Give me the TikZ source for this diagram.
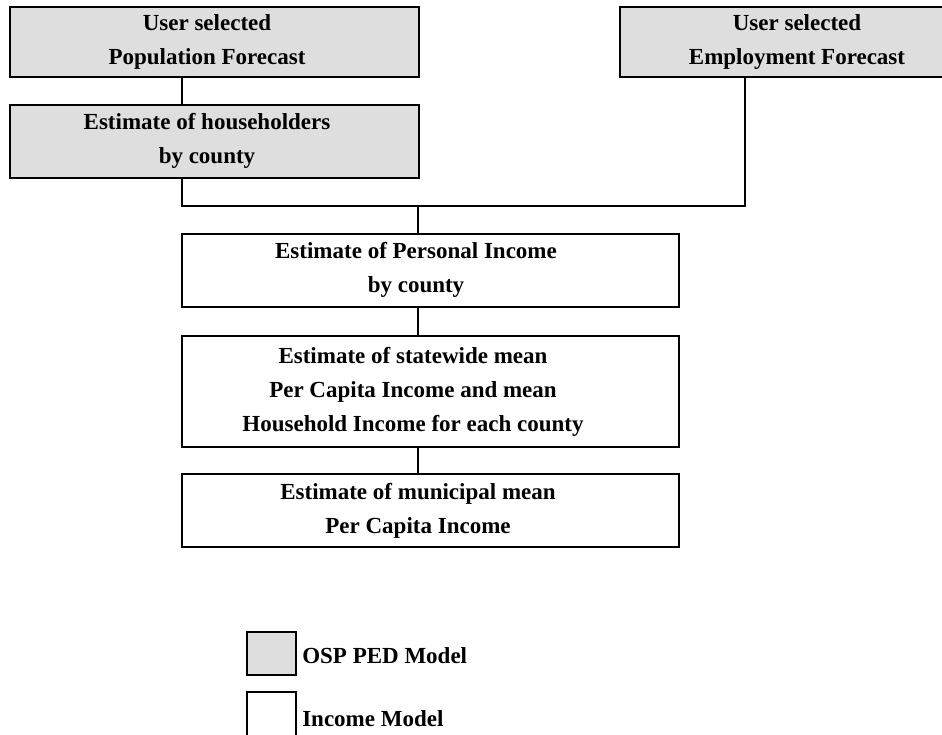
\documentclass[tikz,border=0pt]{standalone}
\usepackage{fontspec}
\setmainfont{Liberation Serif}
\definecolor{pedgrey}{RGB}{222,222,222}
\begin{document}
\begin{tikzpicture}[x=0.75pt,y=-0.75pt,
  box/.style={draw=black,line width=2.2pt,rectangle,inner sep=0pt,minimum width=#1},
  grey/.style={fill=pedgrey},
  conn/.style={draw=black,line width=2.2pt},
  txt/.style={font=\fontsize{17.25}{25.5}\selectfont\bfseries,align=center,inner sep=0pt},
  leg/.style={font=\fontsize{17.25}{25.5}\selectfont\bfseries,inner sep=0pt,anchor=base west}]
\useasboundingbox (0,0) rectangle (942,735);
% boxes
\node[box=409*0.75pt,grey,minimum height=70*0.75pt] (pop) at (214.5,42) {};
\node[box=409*0.75pt,grey,minimum height=73*0.75pt] (hh) at (214.5,141.5) {};
\node[box=360*0.75pt,grey,minimum height=70*0.75pt] (emp) at (800,42) {};
\node[box=497*0.75pt,minimum height=73*0.75pt] (pi) at (430.5,270.5) {};
\node[box=497*0.75pt,minimum height=111*0.75pt] (sw) at (430.5,391.5) {};
\node[box=497*0.75pt,minimum height=73*0.75pt] (mu) at (430.5,510.5) {};
\node[box=49*0.75pt,grey,minimum height=43*0.75pt] (lg) at (271.5,653.5) {};
\node[box=49*0.75pt,minimum height=48*0.75pt] (lw) at (271.5,716) {};
% texts
\node[txt] (tpop) at (207,42) {User selected\\Population Forecast};
\node[txt] (thh) at (207,141) {Estimate of householders\\by county};
\node[txt] (temp) at (797,42) {User selected\\Employment Forecast};
\node[txt] (tpi) at (416,270) {Estimate of Personal Income\\by county};
\node[txt] (tsw) at (413,392) {Estimate of statewide mean\\Per Capita Income and mean\\Household Income for each county};
\node[txt] (tmu) at (418,511) {Estimate of municipal mean\\Per Capita Income};
\node[leg] (tlg) at (302,663) {OSP PED Model};
\node[leg] (tlw) at (302,726) {Income Model};
% connectors
\coordinate (cl) at (182,206);
\coordinate (cr) at (745,206);
\coordinate (j) at (418,206);
\draw[conn] (pop.south -| cl) -- (hh.north -| cl);
\draw[conn] (hh.south -| cl) -- (cl) -- (cr) -- (emp.south -| cr);
\draw[conn] (j) -- (pi.north -| j);
\draw[conn] (pi.south -| j) -- (sw.north -| j);
\draw[conn] (sw.south -| j) -- (mu.north -| j);
\end{tikzpicture}
\end{document}
